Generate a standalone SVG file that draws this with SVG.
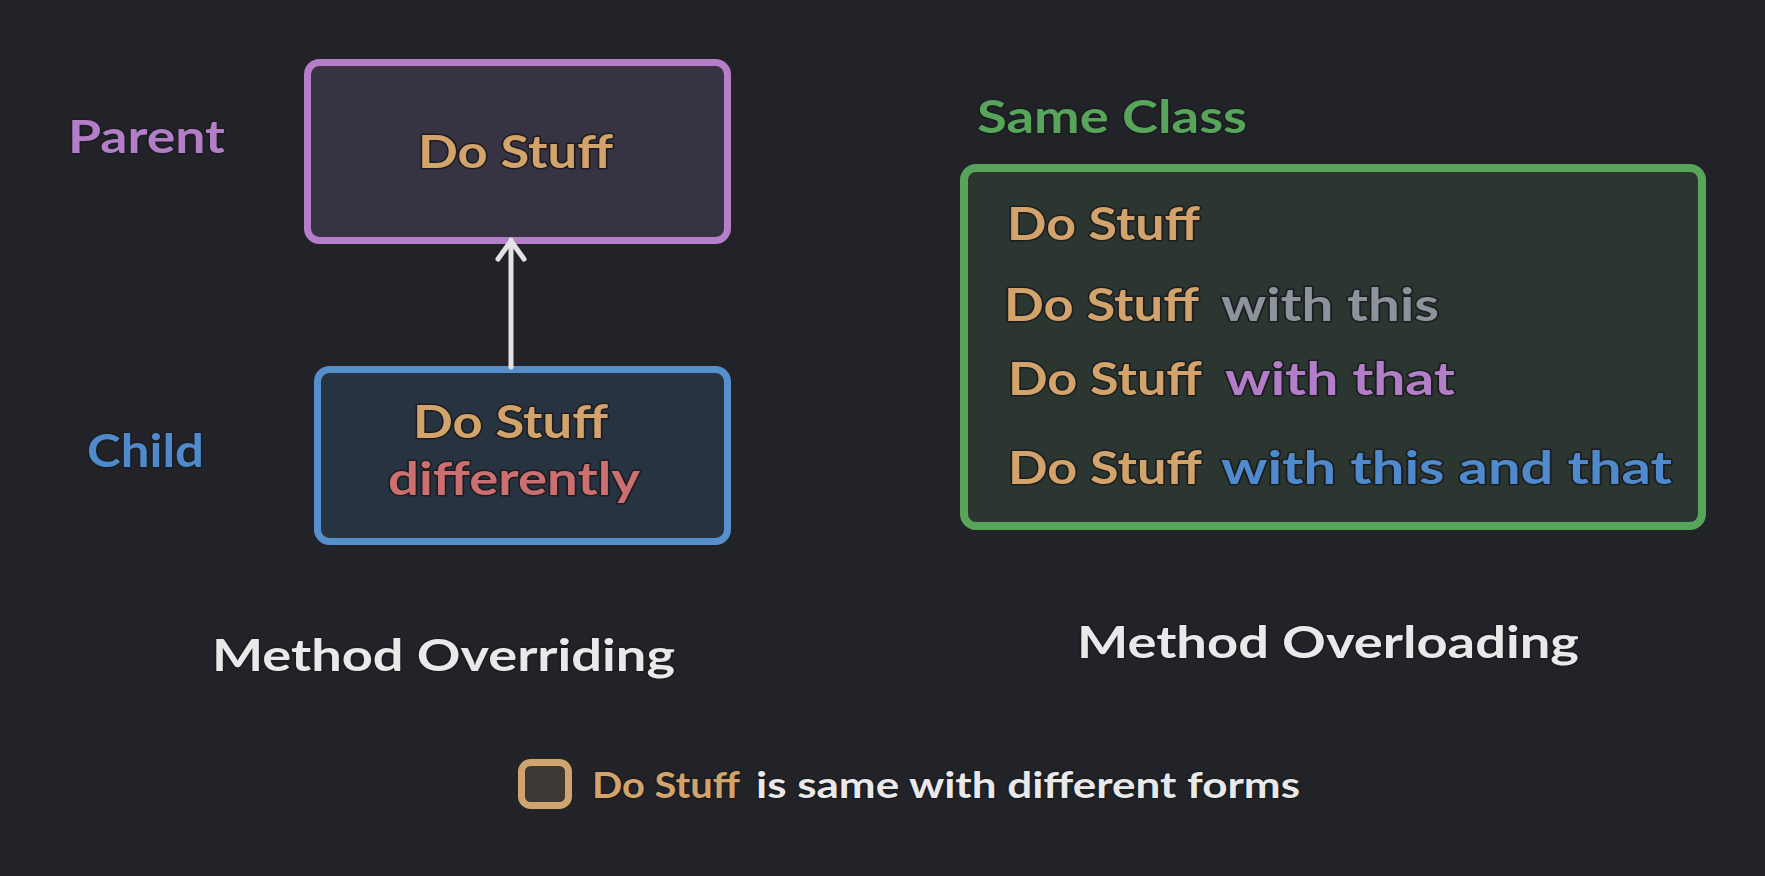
<svg xmlns="http://www.w3.org/2000/svg" width="1765" height="876" viewBox="0 0 1765 876">
  <defs>
    <style>
      text { font-family: "Lato", "Noto Sans", sans-serif; font-weight: bold; paint-order: stroke; stroke: #1c1d21; stroke-width: 3px; stroke-linejoin: round; }
      .lg { font-size: 46px; }
      .md { font-size: 44px; }
      .sm { font-size: 36px; }
      .tan { fill: #d2a46c; }
      .red { fill: #cc6f70; }
      .gray { fill: #8d939b; }
      .pur { fill: #b37ec8; }
      .blue { fill: #4f8bcc; }
      .green { fill: #57a45a; }
      .white { fill: #e9e9e9; }
    </style>
    <marker id="arrow" viewBox="0 0 24 32" refX="22" refY="16" markerWidth="24" markerHeight="32" markerUnits="userSpaceOnUse" orient="auto">
      <path d="M3,3 L21,16 L3,29" fill="none" stroke="#e3e3e3" stroke-width="5" stroke-linecap="round" stroke-linejoin="round"/>
    </marker>
  </defs>
  <rect width="1765" height="876" fill="#212328"/>

  <g id="parent-label"><text class="lg pur" x="68" y="153" textLength="157" lengthAdjust="spacingAndGlyphs">Parent</text></g>
  <g id="child-label"><text class="lg blue" x="87" y="467" textLength="117" lengthAdjust="spacingAndGlyphs">Child</text></g>

  <g id="parent">
    <rect x="307.5" y="62.5" width="420" height="178" rx="12" fill="#383342" stroke="#b47fc8" stroke-width="7"/>
    <text class="lg tan" x="418" y="168" textLength="195" lengthAdjust="spacingAndGlyphs">Do Stuff</text>
  </g>

  <g id="child">
    <rect x="317.5" y="369.5" width="410" height="172" rx="12" fill="#283341" stroke="#5590cc" stroke-width="7"/>
    <text class="lg tan" x="413" y="438" textLength="195" lengthAdjust="spacingAndGlyphs">Do Stuff</text>
    <text class="lg red" x="388" y="495" textLength="252" lengthAdjust="spacingAndGlyphs">differently</text>
  </g>

  <g id="connectors">
    <line x1="511" y1="367" x2="511" y2="240" stroke="#e3e3e3" stroke-width="5" stroke-linecap="round" marker-end="url(#arrow)"/>
  </g>

  <g id="same-class-label"><text class="lg green" x="977" y="133" textLength="270" lengthAdjust="spacingAndGlyphs">Same Class</text></g>

  <g id="same-class">
    <rect x="964" y="168" width="738" height="358" rx="12" fill="#2b3630" stroke="#57a45a" stroke-width="8"/>
    <text class="lg tan" x="1007" y="240" textLength="193" lengthAdjust="spacingAndGlyphs">Do Stuff</text>
    <text class="lg tan" x="1004" y="321" textLength="195" lengthAdjust="spacingAndGlyphs">Do Stuff</text>
    <text class="lg gray" x="1221" y="321" textLength="218" lengthAdjust="spacingAndGlyphs">with this</text>
    <text class="lg tan" x="1008" y="395" textLength="194" lengthAdjust="spacingAndGlyphs">Do Stuff</text>
    <text class="lg pur" x="1225" y="395" textLength="230" lengthAdjust="spacingAndGlyphs">with that</text>
    <text class="lg tan" x="1008" y="484" textLength="194" lengthAdjust="spacingAndGlyphs">Do Stuff</text>
    <text class="lg blue" x="1221" y="484" textLength="451" lengthAdjust="spacingAndGlyphs">with this and that</text>
  </g>

  <g id="titles">
    <text class="md white" x="212" y="671" textLength="463" lengthAdjust="spacingAndGlyphs">Method Overriding</text>
    <text class="md white" x="1077" y="658" textLength="502" lengthAdjust="spacingAndGlyphs">Method Overloading</text>
  </g>

  <g id="legend">
    <rect x="521.5" y="762.5" width="47" height="43" rx="9" fill="#3d3935" stroke="#cfa46e" stroke-width="7"/>
    <text class="sm tan" x="592" y="798" textLength="148" lengthAdjust="spacingAndGlyphs">Do Stuff</text>
    <text class="sm white" x="756" y="798" textLength="544" lengthAdjust="spacingAndGlyphs">is same with different forms</text>
  </g>
</svg>
